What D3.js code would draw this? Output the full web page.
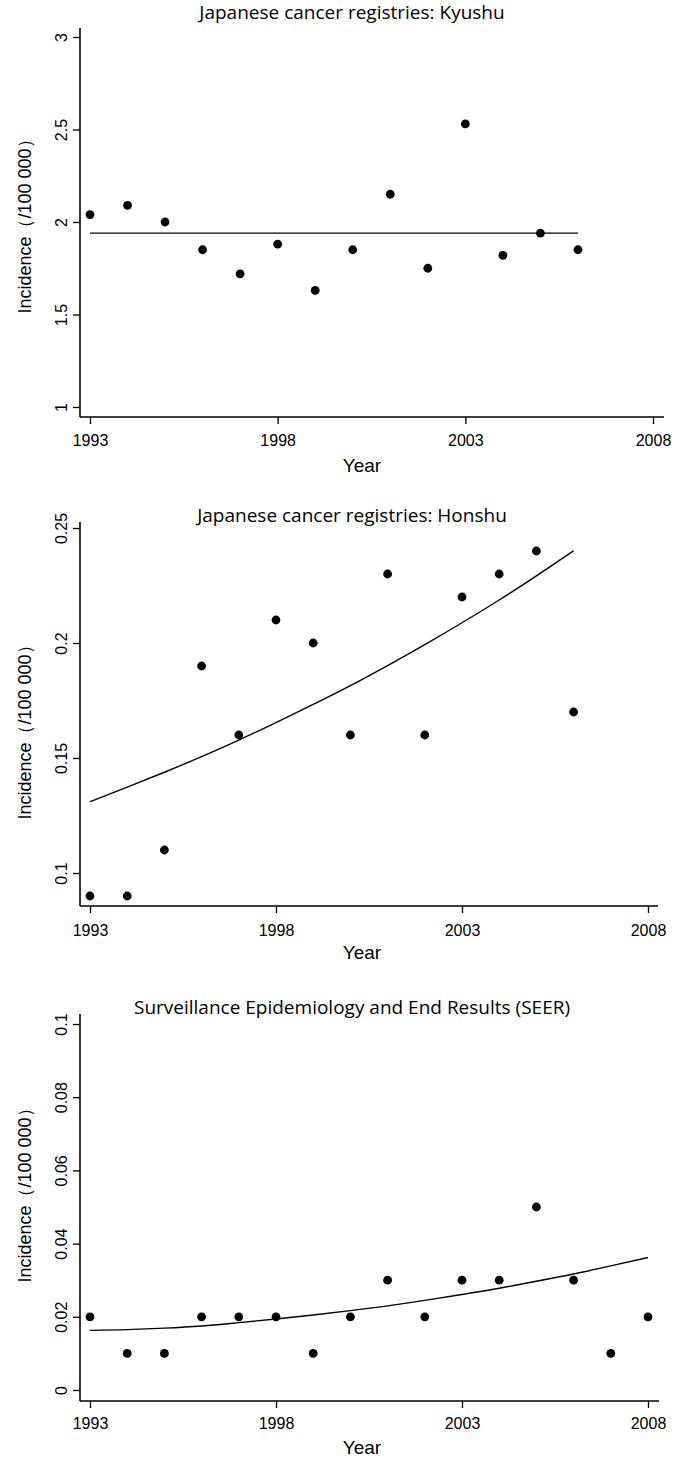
<!DOCTYPE html>
<html>
<head>
<meta charset="utf-8">
<script src="https://cdn.jsdelivr.net/npm/d3@7"></script>
<style>
  html, body { margin: 0; padding: 0; background: #fff; }
  svg { display: block; }
  .tick text { font-family: "Liberation Sans", Arial, sans-serif; }
</style>
</head>
<body>
<svg id="chart" width="676" height="1458"></svg>
<script>
// ---------------- DATA ----------------
const titles = [
  "Japanese cancer registries: Kyushu",
  "Japanese cancer registries: Honshu",
  "Surveillance Epidemiology and End Results (SEER)"
];
const xTicks = [1993, 1998, 2003, 2008];

// Kyushu
const kyushuYears = [1993,1994,1995,1996,1997,1998,1999,2000,2001,2002,2003,2004,2005,2006];
const kyushuRates = [2.04,2.09,2.00,1.85,1.72,1.88,1.63,1.85,2.15,1.75,2.53,1.82,1.94,1.85];
const kyushuFitYears = [1993, 2006];
const kyushuFit = [1.94, 1.94];
const kyushuTicks = [1, 1.5, 2, 2.5, 3];

// Honshu
const honshuYears = [1993,1994,1995,1996,1997,1998,1999,2000,2001,2002,2003,2004,2005,2006];
const honshuRates = [0.09,0.09,0.11,0.19,0.16,0.21,0.20,0.16,0.23,0.16,0.22,0.23,0.24,0.17];
const honshuFit   = [0.1310,0.1373,0.1438,0.1506,0.1578,0.1654,0.1733,0.1815,0.1902,0.1993,0.2088,0.2187,0.2292,0.2401];
const honshuTicks = [0.1, 0.15, 0.2, 0.25];

// SEER
const seerYears = [1993,1994,1995,1996,1997,1998,1999,2000,2001,2002,2003,2004,2005,2006,2007,2008];
const seerRates = [0.02,0.01,0.01,0.02,0.02,0.02,0.01,0.02,0.03,0.02,0.03,0.03,0.05,0.03,0.01,0.02];
const seerFit   = [0.0163,0.0165,0.0169,0.0175,0.0184,0.0194,0.0205,0.0217,0.0230,0.0245,0.0261,0.0278,0.0297,0.0317,0.0339,0.0362];
const seerTicks = [0, 0.02, 0.04, 0.06, 0.08, 0.1];

// ---------------- LAYOUT ----------------
const panels = [
  { title: titles[0], years: kyushuYears, rates: kyushuRates, fitYears: kyushuFitYears, fit: kyushuFit,
    yTicks: kyushuTicks, yDomain: [1, 3], yRange: [407, 37], xRange: [90, 653],
    axisY: 417, axisTop: 28, axisRight: 664, titleY: 19, yLabelY: 222, tickLabelY: 446, xLabelY: 472 },
  { title: titles[1], years: honshuYears, rates: honshuRates, fitYears: honshuYears, fit: honshuFit,
    yTicks: honshuTicks, yDomain: [0.1, 0.25], yRange: [873, 528], xRange: [90, 648],
    axisY: 906, axisTop: 522, axisRight: 658, titleY: 522, yLabelY: 728, tickLabelY: 936, xLabelY: 959 },
  { title: titles[2], years: seerYears, rates: seerRates, fitYears: seerYears, fit: seerFit,
    yTicks: seerTicks, yDomain: [0, 0.1], yRange: [1390, 1024], xRange: [90, 648],
    axisY: 1401, axisTop: 1014, axisRight: 659, titleY: 1014, yLabelY: 1191, tickLabelY: 1429, xLabelY: 1454 }
];

const svg = d3.select("#chart");
const axisX0 = 80;

panels.forEach(p => {
  const g = svg.append("g");
  const x = d3.scaleLinear().domain([1993, 2008]).range(p.xRange);
  const y = d3.scaleLinear().domain(p.yDomain).range(p.yRange);

  // Title
  g.append("text")
    .attr("x", 352).attr("y", p.titleY)
    .attr("text-anchor", "middle")
    .style("font-family", "'Open Sans', sans-serif")
    .style("font-size", "19px")
    .attr("fill", "#000")
    .text(p.title);

  // Y axis
  const yAxis = d3.axisLeft(y).tickValues(p.yTicks).tickSize(7).tickSizeOuter(0)
    .tickFormat(d => d3.format("")(+d.toFixed(3)));
  const yg = g.append("g").attr("transform", `translate(${axisX0},0)`).call(yAxis);
  yg.select(".domain").remove();
  yg.selectAll(".tick line").attr("stroke", "#000").attr("stroke-width", 1.3);
  yg.selectAll(".tick text")
    .attr("transform", "rotate(-90)")
    .attr("x", 0).attr("y", -13).attr("dy", 0)
    .attr("text-anchor", "middle")
    .style("font-size", "16px").attr("fill", "#000");
  g.append("line")
    .attr("x1", axisX0).attr("x2", axisX0)
    .attr("y1", p.axisTop).attr("y2", p.axisY)
    .attr("stroke", "#000").attr("stroke-width", 1.6);

  // X axis
  const xAxis = d3.axisBottom(x).tickValues(xTicks).tickSize(7).tickSizeOuter(0).tickFormat(d3.format("d"));
  const xg = g.append("g").attr("transform", `translate(0,${p.axisY})`).call(xAxis);
  xg.select(".domain").remove();
  xg.selectAll(".tick line").attr("stroke", "#000").attr("stroke-width", 1.3);
  xg.selectAll(".tick text")
    .attr("y", p.tickLabelY - p.axisY).attr("dy", 0)
    .style("font-size", "16px").attr("fill", "#000");
  g.append("line")
    .attr("x1", axisX0).attr("x2", p.axisRight)
    .attr("y1", p.axisY).attr("y2", p.axisY)
    .attr("stroke", "#000").attr("stroke-width", 1.6);

  // Axis titles
  g.append("text")
    .attr("transform", `translate(31,${p.yLabelY}) rotate(-90)`)
    .attr("text-anchor", "middle")
    .style("font-family", "'Liberation Sans', Arial, sans-serif")
    .style("font-size", "18px").attr("fill", "#000")
    .text("Incidence（/100 000）");
  g.append("text")
    .attr("x", 362).attr("y", p.xLabelY)
    .attr("text-anchor", "middle")
    .style("font-family", "'Liberation Sans', Arial, sans-serif")
    .style("font-size", "19px").attr("fill", "#000")
    .text("Year");

  // Fitted line
  const fitData = p.fitYears.map((yr, i) => ({ yr, v: p.fit[i] }));
  g.append("path")
    .datum(fitData)
    .attr("fill", "none").attr("stroke", "#000").attr("stroke-width", 1.4)
    .attr("d", d3.line().x(d => x(d.yr)).y(d => y(d.v)).curve(d3.curveMonotoneX));

  // Points
  const pts = p.years.map((yr, i) => ({ yr, v: p.rates[i] }));
  g.selectAll("circle.pt").data(pts).enter().append("circle")
    .attr("class", "pt")
    .attr("cx", d => x(d.yr)).attr("cy", d => y(d.v))
    .attr("r", 4.4).attr("fill", "#000");
});
</script>
</body>
</html>
